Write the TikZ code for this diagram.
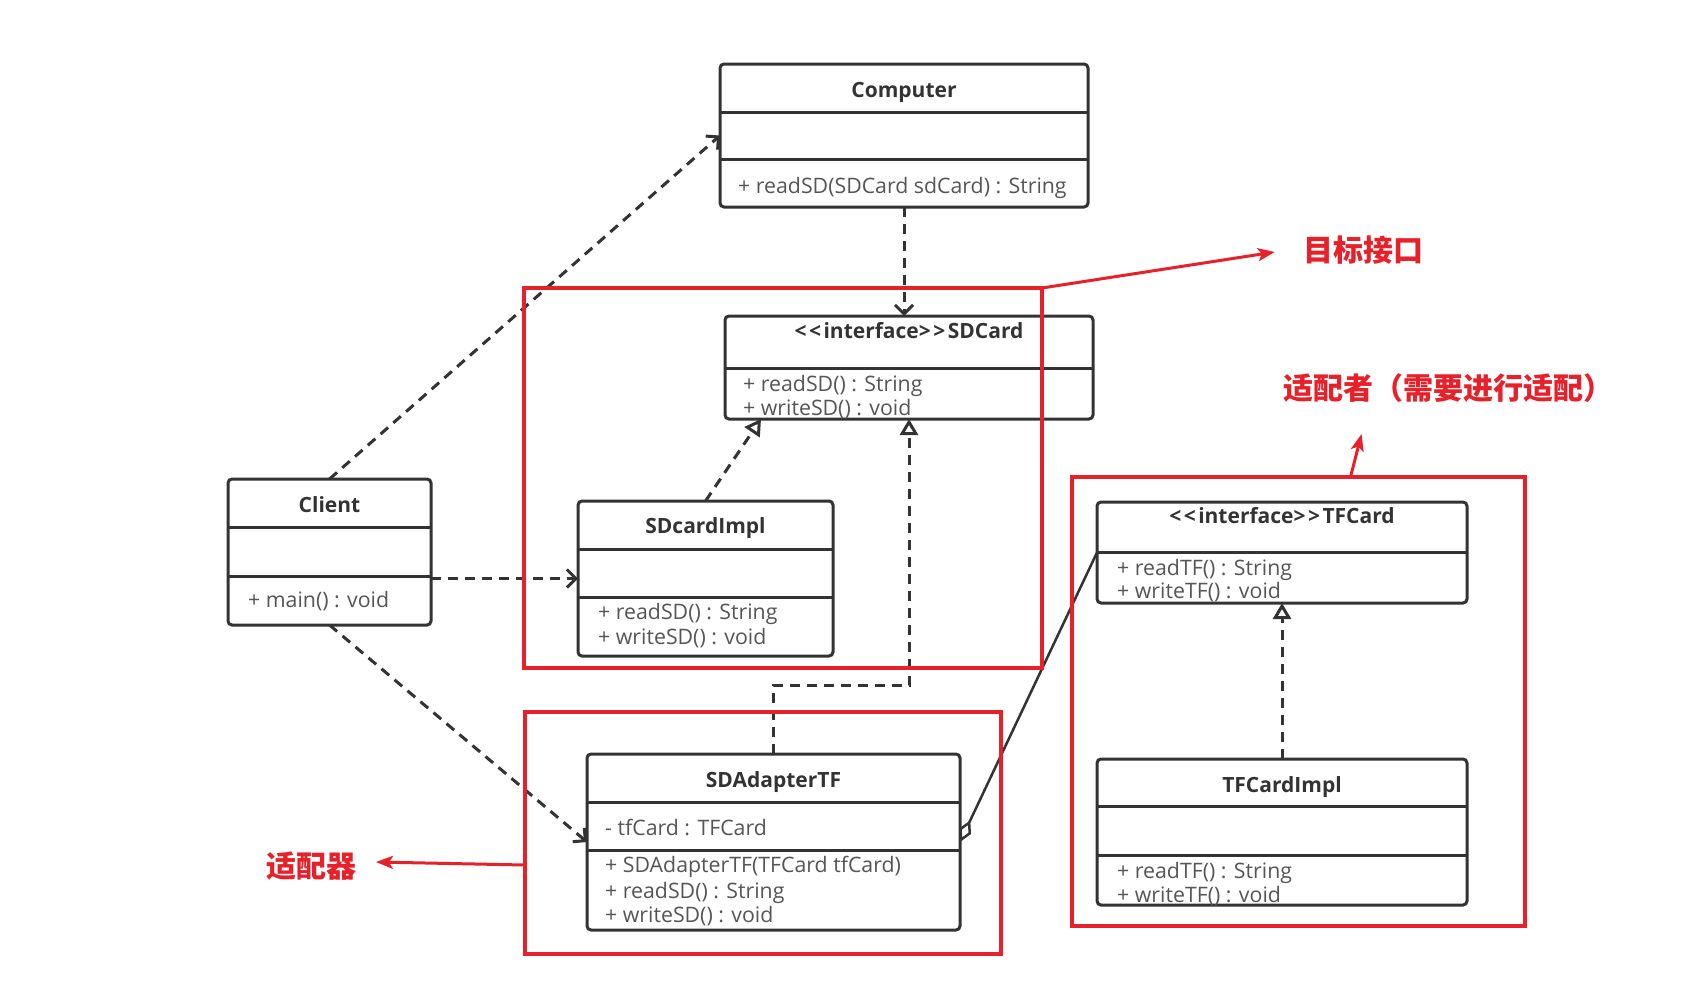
\documentclass[tikz,border=0pt]{standalone}
\usepackage{fontspec}
\setmainfont{Open Sans}
\newfontfamily\cjk{Noto Sans CJK SC}
\usetikzlibrary{arrows.meta,calc}
\definecolor{boxc}{HTML}{333333}
\definecolor{titlec}{HTML}{333333}
\definecolor{memc}{HTML}{555555}
\definecolor{redc}{HTML}{E8202A}
\newcommand\umlclass[5]{\node[classbox, minimum width=#4-#2, minimum height=#5-#3] (#1) at (#2,#3) {};}
\newcommand\umldiv[2]{\draw[divider] (#1.west |- 0,#2) -- (#1.east |- 0,#2);}
\newcommand\lt{<\kern2.5pt}
\newcommand\gt{>\kern2.5pt}
\begin{document}
\begin{tikzpicture}[x=1pt,y=-1pt,
  classbox/.style={draw=boxc, line width=3pt, rounded corners=4pt, inner sep=0pt, outer sep=0pt, anchor=north west},
  divider/.style={draw=boxc, line width=3pt},
  title/.style={font=\fontsize{21}{24}\selectfont\bfseries, text=titlec, anchor=base, inner sep=0pt},
  member/.style={font=\fontsize{21.3}{24}\selectfont, text=memc, anchor=base west, inner sep=0pt},
  dep/.style={draw=boxc, line width=3pt, dash pattern=on 10pt off 7pt, -{Straight Barb[length=9pt,width=18pt]}},
  real/.style={draw=boxc, line width=3pt, dash pattern=on 10pt off 7pt, -{Triangle[open,length=16pt,width=18pt]}},
  aggr/.style={draw=boxc, line width=2.5pt, -{Diamond[open,length=24pt,width=13pt]}},
  redbox/.style={draw=redc, line width=4pt, inner sep=0pt, outer sep=0pt, anchor=north west},
  redarrow/.style={draw=redc, line width=3pt, -{Stealth[length=17pt,width=13pt,inset=4pt]}},
  note/.style={font=\cjk\fontsize{30}{34}\selectfont\bfseries, text=redc, inner sep=0pt}]
\fill[white] (0,0) rectangle (1684,1005);
\useasboundingbox (0,0) rectangle (1684,1005);

% Computer
\umlclass{computer}{720}{64}{1088}{207}
\umldiv{computer}{112}\umldiv{computer}{159}
\node[title] (computerT) at (904,97) {Computer};
\node[member] (computerM1) at (738,193) {+ readSD(SDCard sdCard) : String};

% SDCard
\umlclass{sdcard}{725}{316}{1093}{419}
\umldiv{sdcard}{368}
\node[title] (sdcardT) at (909,338) {\lt\lt interface\gt\gt SDCard};
\node[member] (sdcardM1) at (743,391) {+ readSD() : String};
\node[member] (sdcardM2) at (743,415) {+ writeSD() : void};

% Client
\umlclass{client}{228}{479}{431}{625}
\umldiv{client}{527}\umldiv{client}{576}
\node[title] (clientT) at (329.5,512) {Client};
\node[member] (clientM1) at (248,607) {+ main() : void};

% SDcardImpl
\umlclass{sdimpl}{578}{501}{833}{656}
\umldiv{sdimpl}{549}\umldiv{sdimpl}{597}
\node[title] (sdimplT) at (705.5,533) {SDcardImpl};
\node[member] (sdimplM1) at (598,619) {+ readSD() : String};
\node[member] (sdimplM2) at (598,644) {+ writeSD() : void};

% SDAdapterTF
\umlclass{adapter}{587}{754}{960}{930}
\umldiv{adapter}{802}\umldiv{adapter}{850}
\node[title] (adapterT) at (773.5,787) {SDAdapterTF};
\node[member] (adapterA1) at (605,835) {- tfCard : TFCard};
\node[member] (adapterM1) at (605,872) {+ SDAdapterTF(TFCard tfCard)};
\node[member] (adapterM2) at (605,898) {+ readSD() : String};
\node[member] (adapterM3) at (605,922) {+ writeSD() : void};

% TFCard
\umlclass{tfcard}{1097}{502}{1467}{603}
\umldiv{tfcard}{552}
\node[title] (tfcardT) at (1282,523) {\lt\lt interface\gt\gt TFCard};
\node[member] (tfcardM1) at (1117,575) {+ readTF() : String};
\node[member] (tfcardM2) at (1117,598) {+ writeTF() : void};

% TFCardImpl
\umlclass{tfimpl}{1097}{759}{1467}{905}
\umldiv{tfimpl}{806}\umldiv{tfimpl}{855}
\node[title] (tfimplT) at (1282,792) {TFCardImpl};
\node[member] (tfimplM1) at (1117,878) {+ readTF() : String};
\node[member] (tfimplM2) at (1117,902) {+ writeTF() : void};

% connectors
\draw[dep] (client.north) -- (computer.west);
\draw[dep] (computer.south) -- (computer.south |- sdcard.north);
\draw[dep] (client.east |- sdimpl.west) -- (sdimpl.west);
\draw[dep] (client.south) -- (adapter.west);
\draw[real] (sdimpl.north) -- ($(sdcard.south west)+(36,0)$);
\draw[real] (adapter.north) -- ++(0,-69) -| (sdcard.south);
\draw[real] (tfimpl.north) -- (tfcard.south);
\draw[aggr] (tfcard.west) -- (adapter.east);

% red annotations
\node[redbox, minimum width=518, minimum height=380] (rb1) at (524,288) {};
\node[redbox, minimum width=476, minimum height=242] (rb2) at (525,712) {};
\node[redbox, minimum width=453, minimum height=449] (rb3) at (1072,477) {};
\node[note] (lbl1) at (1363,250) {目标接口};
\node[note] (lbl2) at (1448,388) {适配者（需要进行适配）};
\node[note] (lbl3) at (311,866) {适配器};
\draw[redarrow] (rb1.north east) -- ($(lbl1.west)+(-28,2)$);
\draw[redarrow] ($(rb3.north)+(52,0)$) -- ++(11,-43);
\draw[redarrow] ($(rb2.west)+(0,32)$) -- ++(-149,-3);
\end{tikzpicture}
\end{document}
